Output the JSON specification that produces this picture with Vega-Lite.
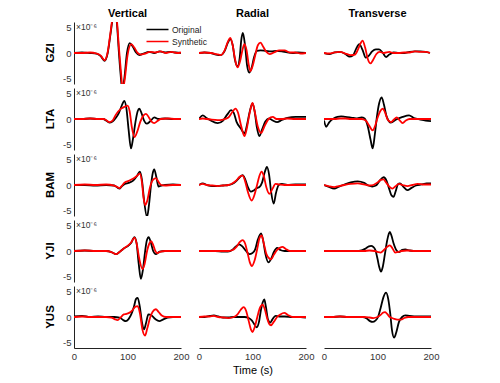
{
"$schema":"https://vega.github.io/schema/vega-lite/v6.json",
"padding":{"left":45,"top":8,"right":5,"bottom":5},
"background":"white",
"config":{"font":"Liberation Sans","view":{"stroke":null},
 "axis":{"grid":false,"ticks":false,"domainColor":"#222","domainWidth":1,"labelColor":"#333","labelFontSize":9.5,"labelPadding":3,"labelFlush":false,"labelOverlap":false,"title":null}},
"data":{"values":[
{"s":"GZI","c":"V","k":"O","t":0,"v":0},{"s":"GZI","c":"V","k":"O","t":15,"v":0.1},{"s":"GZI","c":"V","k":"O","t":30,"v":0},{"s":"GZI","c":"V","k":"O","t":42,"v":-0.1},{"s":"GZI","c":"V","k":"O","t":50,"v":-0.6},{"s":"GZI","c":"V","k":"O","t":57,"v":-1.5},{"s":"GZI","c":"V","k":"O","t":63,"v":0},{"s":"GZI","c":"V","k":"O","t":68,"v":3.5},{"s":"GZI","c":"V","k":"O","t":72,"v":6.5},{"s":"GZI","c":"V","k":"O","t":76,"v":8.5},{"s":"GZI","c":"V","k":"O","t":80,"v":6},{"s":"GZI","c":"V","k":"O","t":84,"v":0},{"s":"GZI","c":"V","k":"O","t":87,"v":-4},{"s":"GZI","c":"V","k":"O","t":90,"v":-7},{"s":"GZI","c":"V","k":"O","t":94,"v":-5},{"s":"GZI","c":"V","k":"O","t":99,"v":0},{"s":"GZI","c":"V","k":"O","t":104,"v":1.9},{"s":"GZI","c":"V","k":"O","t":110,"v":1.2},{"s":"GZI","c":"V","k":"O","t":116,"v":0.1},{"s":"GZI","c":"V","k":"O","t":122,"v":-0.4},{"s":"GZI","c":"V","k":"O","t":130,"v":-0.1},{"s":"GZI","c":"V","k":"O","t":140,"v":0.2},{"s":"GZI","c":"V","k":"O","t":150,"v":0},{"s":"GZI","c":"V","k":"O","t":160,"v":0.3},{"s":"GZI","c":"V","k":"O","t":170,"v":0.1},{"s":"GZI","c":"V","k":"O","t":180,"v":0.2},{"s":"GZI","c":"V","k":"O","t":190,"v":0.1},{"s":"GZI","c":"V","k":"O","t":200,"v":0},
{"s":"GZI","c":"V","k":"S","t":0,"v":0},{"s":"GZI","c":"V","k":"S","t":15,"v":0},{"s":"GZI","c":"V","k":"S","t":30,"v":0.1},{"s":"GZI","c":"V","k":"S","t":42,"v":-0.1},{"s":"GZI","c":"V","k":"S","t":50,"v":-0.5},{"s":"GZI","c":"V","k":"S","t":57,"v":-1.4},{"s":"GZI","c":"V","k":"S","t":63,"v":0.2},{"s":"GZI","c":"V","k":"S","t":68,"v":3.8},{"s":"GZI","c":"V","k":"S","t":72,"v":6.8},{"s":"GZI","c":"V","k":"S","t":76,"v":8.5},{"s":"GZI","c":"V","k":"S","t":80,"v":6.5},{"s":"GZI","c":"V","k":"S","t":84,"v":1},{"s":"GZI","c":"V","k":"S","t":88,"v":-4},{"s":"GZI","c":"V","k":"S","t":91,"v":-7},{"s":"GZI","c":"V","k":"S","t":95,"v":-5},{"s":"GZI","c":"V","k":"S","t":100,"v":-0.5},{"s":"GZI","c":"V","k":"S","t":107,"v":1.7},{"s":"GZI","c":"V","k":"S","t":113,"v":1},{"s":"GZI","c":"V","k":"S","t":119,"v":0},{"s":"GZI","c":"V","k":"S","t":125,"v":-0.3},{"s":"GZI","c":"V","k":"S","t":133,"v":-0.1},{"s":"GZI","c":"V","k":"S","t":142,"v":0.2},{"s":"GZI","c":"V","k":"S","t":152,"v":0.1},{"s":"GZI","c":"V","k":"S","t":162,"v":0.3},{"s":"GZI","c":"V","k":"S","t":172,"v":0},{"s":"GZI","c":"V","k":"S","t":182,"v":0.2},{"s":"GZI","c":"V","k":"S","t":192,"v":0},{"s":"GZI","c":"V","k":"S","t":200,"v":0.1},
{"s":"GZI","c":"R","k":"O","t":0,"v":0},{"s":"GZI","c":"R","k":"O","t":10,"v":0.1},{"s":"GZI","c":"R","k":"O","t":22,"v":0},{"s":"GZI","c":"R","k":"O","t":32,"v":-0.3},{"s":"GZI","c":"R","k":"O","t":41,"v":-0.4},{"s":"GZI","c":"R","k":"O","t":48,"v":0.4},{"s":"GZI","c":"R","k":"O","t":54,"v":2},{"s":"GZI","c":"R","k":"O","t":58.5,"v":2.7},{"s":"GZI","c":"R","k":"O","t":63,"v":1.5},{"s":"GZI","c":"R","k":"O","t":67,"v":-1.2},{"s":"GZI","c":"R","k":"O","t":72,"v":-2.6},{"s":"GZI","c":"R","k":"O","t":76,"v":-1},{"s":"GZI","c":"R","k":"O","t":79,"v":2.5},{"s":"GZI","c":"R","k":"O","t":82,"v":3.9},{"s":"GZI","c":"R","k":"O","t":86,"v":1.5},{"s":"GZI","c":"R","k":"O","t":90,"v":-2.5},{"s":"GZI","c":"R","k":"O","t":94,"v":-3.8},{"s":"GZI","c":"R","k":"O","t":98,"v":-3},{"s":"GZI","c":"R","k":"O","t":103,"v":-0.8},{"s":"GZI","c":"R","k":"O","t":108,"v":0.4},{"s":"GZI","c":"R","k":"O","t":115,"v":0.5},{"s":"GZI","c":"R","k":"O","t":125,"v":0.4},{"s":"GZI","c":"R","k":"O","t":135,"v":0.3},{"s":"GZI","c":"R","k":"O","t":145,"v":0.4},{"s":"GZI","c":"R","k":"O","t":155,"v":0.3},{"s":"GZI","c":"R","k":"O","t":165,"v":0.1},{"s":"GZI","c":"R","k":"O","t":175,"v":0},{"s":"GZI","c":"R","k":"O","t":185,"v":0.1},{"s":"GZI","c":"R","k":"O","t":200,"v":0},
{"s":"GZI","c":"R","k":"S","t":0,"v":0},{"s":"GZI","c":"R","k":"S","t":10,"v":0.1},{"s":"GZI","c":"R","k":"S","t":22,"v":0},{"s":"GZI","c":"R","k":"S","t":32,"v":-0.2},{"s":"GZI","c":"R","k":"S","t":41,"v":-0.4},{"s":"GZI","c":"R","k":"S","t":48,"v":0.5},{"s":"GZI","c":"R","k":"S","t":54,"v":2.2},{"s":"GZI","c":"R","k":"S","t":58.5,"v":2.9},{"s":"GZI","c":"R","k":"S","t":63,"v":1.5},{"s":"GZI","c":"R","k":"S","t":67,"v":-1},{"s":"GZI","c":"R","k":"S","t":72,"v":-2.8},{"s":"GZI","c":"R","k":"S","t":77,"v":-1.5},{"s":"GZI","c":"R","k":"S","t":81,"v":0.5},{"s":"GZI","c":"R","k":"S","t":85,"v":1.7},{"s":"GZI","c":"R","k":"S","t":89,"v":0.5},{"s":"GZI","c":"R","k":"S","t":93,"v":-2.3},{"s":"GZI","c":"R","k":"S","t":96,"v":-3.5},{"s":"GZI","c":"R","k":"S","t":100,"v":-2.6},{"s":"GZI","c":"R","k":"S","t":105,"v":-0.5},{"s":"GZI","c":"R","k":"S","t":110,"v":1.5},{"s":"GZI","c":"R","k":"S","t":115,"v":2},{"s":"GZI","c":"R","k":"S","t":120,"v":1.2},{"s":"GZI","c":"R","k":"S","t":126,"v":0.2},{"s":"GZI","c":"R","k":"S","t":132,"v":-0.2},{"s":"GZI","c":"R","k":"S","t":140,"v":0.1},{"s":"GZI","c":"R","k":"S","t":150,"v":0.5},{"s":"GZI","c":"R","k":"S","t":160,"v":0.5},{"s":"GZI","c":"R","k":"S","t":170,"v":0.1},{"s":"GZI","c":"R","k":"S","t":180,"v":0.1},{"s":"GZI","c":"R","k":"S","t":190,"v":-0.1},{"s":"GZI","c":"R","k":"S","t":200,"v":0},
{"s":"GZI","c":"T","k":"O","t":0,"v":0},{"s":"GZI","c":"T","k":"O","t":10,"v":-0.2},{"s":"GZI","c":"T","k":"O","t":20,"v":0.1},{"s":"GZI","c":"T","k":"O","t":30,"v":0.2},{"s":"GZI","c":"T","k":"O","t":40,"v":-0.2},{"s":"GZI","c":"T","k":"O","t":48,"v":-0.7},{"s":"GZI","c":"T","k":"O","t":54,"v":-0.5},{"s":"GZI","c":"T","k":"O","t":60,"v":0.8},{"s":"GZI","c":"T","k":"O","t":66,"v":1.7},{"s":"GZI","c":"T","k":"O","t":72,"v":0.6},{"s":"GZI","c":"T","k":"O","t":78,"v":-0.9},{"s":"GZI","c":"T","k":"O","t":84,"v":-0.5},{"s":"GZI","c":"T","k":"O","t":90,"v":0.3},{"s":"GZI","c":"T","k":"O","t":97,"v":0.7},{"s":"GZI","c":"T","k":"O","t":103,"v":0.7},{"s":"GZI","c":"T","k":"O","t":110,"v":0},{"s":"GZI","c":"T","k":"O","t":116,"v":-0.8},{"s":"GZI","c":"T","k":"O","t":122,"v":-0.3},{"s":"GZI","c":"T","k":"O","t":130,"v":0.1},{"s":"GZI","c":"T","k":"O","t":140,"v":0},{"s":"GZI","c":"T","k":"O","t":150,"v":0},{"s":"GZI","c":"T","k":"O","t":160,"v":0.2},{"s":"GZI","c":"T","k":"O","t":170,"v":0.3},{"s":"GZI","c":"T","k":"O","t":180,"v":0.3},{"s":"GZI","c":"T","k":"O","t":190,"v":0.2},{"s":"GZI","c":"T","k":"O","t":198,"v":0},
{"s":"GZI","c":"T","k":"S","t":0,"v":0},{"s":"GZI","c":"T","k":"S","t":10,"v":-0.1},{"s":"GZI","c":"T","k":"S","t":20,"v":0.1},{"s":"GZI","c":"T","k":"S","t":30,"v":0.2},{"s":"GZI","c":"T","k":"S","t":40,"v":-0.1},{"s":"GZI","c":"T","k":"S","t":50,"v":-0.4},{"s":"GZI","c":"T","k":"S","t":58,"v":-0.3},{"s":"GZI","c":"T","k":"S","t":64,"v":0.8},{"s":"GZI","c":"T","k":"S","t":68,"v":1.8},{"s":"GZI","c":"T","k":"S","t":72,"v":2.4},{"s":"GZI","c":"T","k":"S","t":77,"v":1},{"s":"GZI","c":"T","k":"S","t":82,"v":-1.2},{"s":"GZI","c":"T","k":"S","t":87,"v":-2},{"s":"GZI","c":"T","k":"S","t":92,"v":-1.3},{"s":"GZI","c":"T","k":"S","t":98,"v":-0.2},{"s":"GZI","c":"T","k":"S","t":104,"v":0.2},{"s":"GZI","c":"T","k":"S","t":112,"v":0},{"s":"GZI","c":"T","k":"S","t":122,"v":0.2},{"s":"GZI","c":"T","k":"S","t":130,"v":0},{"s":"GZI","c":"T","k":"S","t":140,"v":0},{"s":"GZI","c":"T","k":"S","t":150,"v":0.1},{"s":"GZI","c":"T","k":"S","t":160,"v":0.1},{"s":"GZI","c":"T","k":"S","t":170,"v":0.3},{"s":"GZI","c":"T","k":"S","t":180,"v":0.2},{"s":"GZI","c":"T","k":"S","t":190,"v":0.2},{"s":"GZI","c":"T","k":"S","t":198,"v":0},
{"s":"LTA","c":"V","k":"O","t":0,"v":0},{"s":"LTA","c":"V","k":"O","t":15,"v":0},{"s":"LTA","c":"V","k":"O","t":30,"v":0.1},{"s":"LTA","c":"V","k":"O","t":45,"v":0},{"s":"LTA","c":"V","k":"O","t":55,"v":0},{"s":"LTA","c":"V","k":"O","t":60,"v":-0.3},{"s":"LTA","c":"V","k":"O","t":66,"v":-0.7},{"s":"LTA","c":"V","k":"O","t":72,"v":-0.5},{"s":"LTA","c":"V","k":"O","t":78,"v":0.2},{"s":"LTA","c":"V","k":"O","t":84,"v":1.2},{"s":"LTA","c":"V","k":"O","t":90,"v":2.8},{"s":"LTA","c":"V","k":"O","t":94,"v":3.5},{"s":"LTA","c":"V","k":"O","t":98,"v":2},{"s":"LTA","c":"V","k":"O","t":102,"v":-2},{"s":"LTA","c":"V","k":"O","t":106.5,"v":-5.7},{"s":"LTA","c":"V","k":"O","t":110,"v":-4},{"s":"LTA","c":"V","k":"O","t":115,"v":-0.5},{"s":"LTA","c":"V","k":"O","t":119,"v":1.5},{"s":"LTA","c":"V","k":"O","t":122,"v":2},{"s":"LTA","c":"V","k":"O","t":126,"v":1.2},{"s":"LTA","c":"V","k":"O","t":131,"v":-0.3},{"s":"LTA","c":"V","k":"O","t":136,"v":-0.9},{"s":"LTA","c":"V","k":"O","t":142,"v":-0.5},{"s":"LTA","c":"V","k":"O","t":150,"v":0.3},{"s":"LTA","c":"V","k":"O","t":158,"v":0},{"s":"LTA","c":"V","k":"O","t":170,"v":0.1},{"s":"LTA","c":"V","k":"O","t":185,"v":0},{"s":"LTA","c":"V","k":"O","t":200,"v":0},
{"s":"LTA","c":"V","k":"S","t":0,"v":0},{"s":"LTA","c":"V","k":"S","t":15,"v":0},{"s":"LTA","c":"V","k":"S","t":30,"v":0.1},{"s":"LTA","c":"V","k":"S","t":45,"v":0},{"s":"LTA","c":"V","k":"S","t":55,"v":0},{"s":"LTA","c":"V","k":"S","t":60,"v":-0.2},{"s":"LTA","c":"V","k":"S","t":66,"v":-0.6},{"s":"LTA","c":"V","k":"S","t":72,"v":-0.3},{"s":"LTA","c":"V","k":"S","t":78,"v":0.8},{"s":"LTA","c":"V","k":"S","t":88,"v":2},{"s":"LTA","c":"V","k":"S","t":95,"v":2.4},{"s":"LTA","c":"V","k":"S","t":100,"v":2.6},{"s":"LTA","c":"V","k":"S","t":104,"v":1.5},{"s":"LTA","c":"V","k":"S","t":108,"v":-1.5},{"s":"LTA","c":"V","k":"S","t":113,"v":-3.5},{"s":"LTA","c":"V","k":"S","t":118,"v":-2.5},{"s":"LTA","c":"V","k":"S","t":124,"v":-0.5},{"s":"LTA","c":"V","k":"S","t":130,"v":0.7},{"s":"LTA","c":"V","k":"S","t":134.6,"v":1},{"s":"LTA","c":"V","k":"S","t":140,"v":0.3},{"s":"LTA","c":"V","k":"S","t":145,"v":-0.5},{"s":"LTA","c":"V","k":"S","t":150,"v":-0.8},{"s":"LTA","c":"V","k":"S","t":156,"v":-0.4},{"s":"LTA","c":"V","k":"S","t":162,"v":0},{"s":"LTA","c":"V","k":"S","t":175,"v":0.1},{"s":"LTA","c":"V","k":"S","t":190,"v":0},{"s":"LTA","c":"V","k":"S","t":200,"v":0},
{"s":"LTA","c":"R","k":"O","t":0,"v":0},{"s":"LTA","c":"R","k":"O","t":7,"v":0.7},{"s":"LTA","c":"R","k":"O","t":14,"v":0.2},{"s":"LTA","c":"R","k":"O","t":22,"v":-0.3},{"s":"LTA","c":"R","k":"O","t":35,"v":-0.8},{"s":"LTA","c":"R","k":"O","t":45,"v":-0.3},{"s":"LTA","c":"R","k":"O","t":53,"v":0.9},{"s":"LTA","c":"R","k":"O","t":60,"v":1.7},{"s":"LTA","c":"R","k":"O","t":65,"v":1.2},{"s":"LTA","c":"R","k":"O","t":70,"v":-0.5},{"s":"LTA","c":"R","k":"O","t":78,"v":-1.8},{"s":"LTA","c":"R","k":"O","t":85,"v":-2.8},{"s":"LTA","c":"R","k":"O","t":90,"v":-1},{"s":"LTA","c":"R","k":"O","t":95,"v":1.5},{"s":"LTA","c":"R","k":"O","t":100,"v":3},{"s":"LTA","c":"R","k":"O","t":104,"v":1.5},{"s":"LTA","c":"R","k":"O","t":108,"v":-1.5},{"s":"LTA","c":"R","k":"O","t":113,"v":-3.3},{"s":"LTA","c":"R","k":"O","t":118,"v":-2},{"s":"LTA","c":"R","k":"O","t":124,"v":-0.5},{"s":"LTA","c":"R","k":"O","t":131,"v":0.1},{"s":"LTA","c":"R","k":"O","t":138,"v":-0.3},{"s":"LTA","c":"R","k":"O","t":146,"v":-0.6},{"s":"LTA","c":"R","k":"O","t":155,"v":-0.2},{"s":"LTA","c":"R","k":"O","t":165,"v":0.2},{"s":"LTA","c":"R","k":"O","t":181,"v":0.4},{"s":"LTA","c":"R","k":"O","t":190,"v":0.4},{"s":"LTA","c":"R","k":"O","t":200,"v":0.4},
{"s":"LTA","c":"R","k":"S","t":0,"v":0},{"s":"LTA","c":"R","k":"S","t":7,"v":0.1},{"s":"LTA","c":"R","k":"S","t":14,"v":0},{"s":"LTA","c":"R","k":"S","t":22,"v":-0.1},{"s":"LTA","c":"R","k":"S","t":35,"v":-0.2},{"s":"LTA","c":"R","k":"S","t":45,"v":-0.1},{"s":"LTA","c":"R","k":"S","t":55,"v":0.3},{"s":"LTA","c":"R","k":"S","t":62,"v":1.3},{"s":"LTA","c":"R","k":"S","t":68,"v":2},{"s":"LTA","c":"R","k":"S","t":73,"v":1.2},{"s":"LTA","c":"R","k":"S","t":78,"v":-1},{"s":"LTA","c":"R","k":"S","t":85,"v":-3.3},{"s":"LTA","c":"R","k":"S","t":89,"v":-2},{"s":"LTA","c":"R","k":"S","t":94,"v":0.8},{"s":"LTA","c":"R","k":"S","t":100,"v":3.1},{"s":"LTA","c":"R","k":"S","t":104,"v":1.5},{"s":"LTA","c":"R","k":"S","t":110,"v":-1.5},{"s":"LTA","c":"R","k":"S","t":116,"v":-2.7},{"s":"LTA","c":"R","k":"S","t":122,"v":-1.5},{"s":"LTA","c":"R","k":"S","t":130,"v":0},{"s":"LTA","c":"R","k":"S","t":138,"v":0.4},{"s":"LTA","c":"R","k":"S","t":145,"v":0},{"s":"LTA","c":"R","k":"S","t":155,"v":0},{"s":"LTA","c":"R","k":"S","t":165,"v":0.1},{"s":"LTA","c":"R","k":"S","t":180,"v":0},{"s":"LTA","c":"R","k":"S","t":190,"v":0},{"s":"LTA","c":"R","k":"S","t":200,"v":0},
{"s":"LTA","c":"T","k":"O","t":0,"v":-0.3},{"s":"LTA","c":"T","k":"O","t":4,"v":-1.5},{"s":"LTA","c":"T","k":"O","t":10,"v":-0.6},{"s":"LTA","c":"T","k":"O","t":18,"v":0.1},{"s":"LTA","c":"T","k":"O","t":25,"v":0.4},{"s":"LTA","c":"T","k":"O","t":32,"v":0.5},{"s":"LTA","c":"T","k":"O","t":40,"v":0.4},{"s":"LTA","c":"T","k":"O","t":48,"v":0.3},{"s":"LTA","c":"T","k":"O","t":55,"v":0.2},{"s":"LTA","c":"T","k":"O","t":62,"v":0.1},{"s":"LTA","c":"T","k":"O","t":70,"v":0.3},{"s":"LTA","c":"T","k":"O","t":76,"v":0.1},{"s":"LTA","c":"T","k":"O","t":82,"v":-1.5},{"s":"LTA","c":"T","k":"O","t":87,"v":-4},{"s":"LTA","c":"T","k":"O","t":91,"v":-5.7},{"s":"LTA","c":"T","k":"O","t":95,"v":-3},{"s":"LTA","c":"T","k":"O","t":99,"v":0.5},{"s":"LTA","c":"T","k":"O","t":103,"v":3},{"s":"LTA","c":"T","k":"O","t":107.7,"v":4.2},{"s":"LTA","c":"T","k":"O","t":112,"v":2.8},{"s":"LTA","c":"T","k":"O","t":117,"v":0.5},{"s":"LTA","c":"T","k":"O","t":125,"v":-0.7},{"s":"LTA","c":"T","k":"O","t":135,"v":-0.1},{"s":"LTA","c":"T","k":"O","t":147,"v":0.4},{"s":"LTA","c":"T","k":"O","t":159,"v":0.7},{"s":"LTA","c":"T","k":"O","t":168,"v":0.2},{"s":"LTA","c":"T","k":"O","t":180,"v":-0.1},{"s":"LTA","c":"T","k":"O","t":190,"v":-0.3},{"s":"LTA","c":"T","k":"O","t":200,"v":-0.4},
{"s":"LTA","c":"T","k":"S","t":0,"v":0},{"s":"LTA","c":"T","k":"S","t":10,"v":0},{"s":"LTA","c":"T","k":"S","t":20,"v":0},{"s":"LTA","c":"T","k":"S","t":30,"v":0.1},{"s":"LTA","c":"T","k":"S","t":40,"v":0.1},{"s":"LTA","c":"T","k":"S","t":50,"v":0},{"s":"LTA","c":"T","k":"S","t":60,"v":0},{"s":"LTA","c":"T","k":"S","t":70,"v":0},{"s":"LTA","c":"T","k":"S","t":78,"v":-0.3},{"s":"LTA","c":"T","k":"S","t":84,"v":-1.2},{"s":"LTA","c":"T","k":"S","t":91,"v":-2.2},{"s":"LTA","c":"T","k":"S","t":96,"v":-1.2},{"s":"LTA","c":"T","k":"S","t":100,"v":0.2},{"s":"LTA","c":"T","k":"S","t":105,"v":1.5},{"s":"LTA","c":"T","k":"S","t":110,"v":2},{"s":"LTA","c":"T","k":"S","t":114,"v":1.3},{"s":"LTA","c":"T","k":"S","t":119,"v":-0.1},{"s":"LTA","c":"T","k":"S","t":125,"v":-0.6},{"s":"LTA","c":"T","k":"S","t":130,"v":-0.2},{"s":"LTA","c":"T","k":"S","t":136,"v":0.3},{"s":"LTA","c":"T","k":"S","t":141,"v":-0.2},{"s":"LTA","c":"T","k":"S","t":147,"v":-0.8},{"s":"LTA","c":"T","k":"S","t":153,"v":-0.3},{"s":"LTA","c":"T","k":"S","t":160,"v":0},{"s":"LTA","c":"T","k":"S","t":170,"v":0},{"s":"LTA","c":"T","k":"S","t":185,"v":0},{"s":"LTA","c":"T","k":"S","t":200,"v":0},
{"s":"BAM","c":"V","k":"O","t":0,"v":0},{"s":"BAM","c":"V","k":"O","t":20,"v":0},{"s":"BAM","c":"V","k":"O","t":40,"v":-0.1},{"s":"BAM","c":"V","k":"O","t":60,"v":0},{"s":"BAM","c":"V","k":"O","t":75,"v":-0.1},{"s":"BAM","c":"V","k":"O","t":81,"v":-0.5},{"s":"BAM","c":"V","k":"O","t":85,"v":-0.7},{"s":"BAM","c":"V","k":"O","t":89,"v":-0.3},{"s":"BAM","c":"V","k":"O","t":95,"v":0.2},{"s":"BAM","c":"V","k":"O","t":102,"v":0.4},{"s":"BAM","c":"V","k":"O","t":110,"v":0.8},{"s":"BAM","c":"V","k":"O","t":118,"v":1.8},{"s":"BAM","c":"V","k":"O","t":123,"v":2.6},{"s":"BAM","c":"V","k":"O","t":127,"v":1},{"s":"BAM","c":"V","k":"O","t":131,"v":-3},{"s":"BAM","c":"V","k":"O","t":136.5,"v":-6.2},{"s":"BAM","c":"V","k":"O","t":140,"v":-4},{"s":"BAM","c":"V","k":"O","t":144,"v":0},{"s":"BAM","c":"V","k":"O","t":147,"v":2.2},{"s":"BAM","c":"V","k":"O","t":150,"v":3},{"s":"BAM","c":"V","k":"O","t":154,"v":1.5},{"s":"BAM","c":"V","k":"O","t":158,"v":-0.3},{"s":"BAM","c":"V","k":"O","t":163,"v":-0.1},{"s":"BAM","c":"V","k":"O","t":170,"v":0},{"s":"BAM","c":"V","k":"O","t":185,"v":0.1},{"s":"BAM","c":"V","k":"O","t":200,"v":0},
{"s":"BAM","c":"V","k":"S","t":0,"v":0},{"s":"BAM","c":"V","k":"S","t":20,"v":0.1},{"s":"BAM","c":"V","k":"S","t":40,"v":0},{"s":"BAM","c":"V","k":"S","t":60,"v":0.1},{"s":"BAM","c":"V","k":"S","t":75,"v":-0.1},{"s":"BAM","c":"V","k":"S","t":81,"v":-0.4},{"s":"BAM","c":"V","k":"S","t":85,"v":-0.6},{"s":"BAM","c":"V","k":"S","t":89,"v":-0.2},{"s":"BAM","c":"V","k":"S","t":95,"v":0.5},{"s":"BAM","c":"V","k":"S","t":102,"v":0.8},{"s":"BAM","c":"V","k":"S","t":110,"v":1.2},{"s":"BAM","c":"V","k":"S","t":118,"v":1.8},{"s":"BAM","c":"V","k":"S","t":123,"v":2.2},{"s":"BAM","c":"V","k":"S","t":127,"v":0.5},{"s":"BAM","c":"V","k":"S","t":130,"v":-2.5},{"s":"BAM","c":"V","k":"S","t":133,"v":-3.9},{"s":"BAM","c":"V","k":"S","t":137,"v":-3},{"s":"BAM","c":"V","k":"S","t":142,"v":-0.5},{"s":"BAM","c":"V","k":"S","t":147,"v":0.9},{"s":"BAM","c":"V","k":"S","t":153,"v":1.35},{"s":"BAM","c":"V","k":"S","t":158,"v":0.6},{"s":"BAM","c":"V","k":"S","t":163,"v":0},{"s":"BAM","c":"V","k":"S","t":170,"v":-0.1},{"s":"BAM","c":"V","k":"S","t":185,"v":0},{"s":"BAM","c":"V","k":"S","t":200,"v":0},
{"s":"BAM","c":"R","k":"O","t":0,"v":0},{"s":"BAM","c":"R","k":"O","t":7,"v":0.3},{"s":"BAM","c":"R","k":"O","t":15,"v":0},{"s":"BAM","c":"R","k":"O","t":25,"v":-0.2},{"s":"BAM","c":"R","k":"O","t":35,"v":-0.2},{"s":"BAM","c":"R","k":"O","t":45,"v":-0.1},{"s":"BAM","c":"R","k":"O","t":55,"v":0},{"s":"BAM","c":"R","k":"O","t":62,"v":0.2},{"s":"BAM","c":"R","k":"O","t":70,"v":0.8},{"s":"BAM","c":"R","k":"O","t":76,"v":1.5},{"s":"BAM","c":"R","k":"O","t":81.6,"v":1.9},{"s":"BAM","c":"R","k":"O","t":86,"v":1.2},{"s":"BAM","c":"R","k":"O","t":91,"v":-0.3},{"s":"BAM","c":"R","k":"O","t":97,"v":-1.3},{"s":"BAM","c":"R","k":"O","t":103,"v":-1},{"s":"BAM","c":"R","k":"O","t":108,"v":-0.6},{"s":"BAM","c":"R","k":"O","t":113,"v":-0.4},{"s":"BAM","c":"R","k":"O","t":118,"v":0.5},{"s":"BAM","c":"R","k":"O","t":123,"v":2.5},{"s":"BAM","c":"R","k":"O","t":127,"v":3.5},{"s":"BAM","c":"R","k":"O","t":131,"v":2},{"s":"BAM","c":"R","k":"O","t":135,"v":-1.5},{"s":"BAM","c":"R","k":"O","t":139.6,"v":-3.6},{"s":"BAM","c":"R","k":"O","t":144,"v":-1.5},{"s":"BAM","c":"R","k":"O","t":149,"v":0},{"s":"BAM","c":"R","k":"O","t":155,"v":0.2},{"s":"BAM","c":"R","k":"O","t":165,"v":0},{"s":"BAM","c":"R","k":"O","t":180,"v":0.1},{"s":"BAM","c":"R","k":"O","t":200,"v":0.1},
{"s":"BAM","c":"R","k":"S","t":0,"v":0},{"s":"BAM","c":"R","k":"S","t":7,"v":0.2},{"s":"BAM","c":"R","k":"S","t":15,"v":0},{"s":"BAM","c":"R","k":"S","t":25,"v":-0.1},{"s":"BAM","c":"R","k":"S","t":35,"v":-0.2},{"s":"BAM","c":"R","k":"S","t":45,"v":-0.1},{"s":"BAM","c":"R","k":"S","t":55,"v":0},{"s":"BAM","c":"R","k":"S","t":62,"v":0.3},{"s":"BAM","c":"R","k":"S","t":70,"v":0.9},{"s":"BAM","c":"R","k":"S","t":76,"v":1.6},{"s":"BAM","c":"R","k":"S","t":81.6,"v":1.8},{"s":"BAM","c":"R","k":"S","t":86,"v":0.8},{"s":"BAM","c":"R","k":"S","t":91,"v":-1.2},{"s":"BAM","c":"R","k":"S","t":98.5,"v":-3},{"s":"BAM","c":"R","k":"S","t":104,"v":-1.8},{"s":"BAM","c":"R","k":"S","t":109,"v":0.2},{"s":"BAM","c":"R","k":"S","t":113,"v":1.8},{"s":"BAM","c":"R","k":"S","t":117,"v":2.6},{"s":"BAM","c":"R","k":"S","t":121,"v":1.8},{"s":"BAM","c":"R","k":"S","t":126,"v":-0.5},{"s":"BAM","c":"R","k":"S","t":131.5,"v":-1.7},{"s":"BAM","c":"R","k":"S","t":137,"v":-0.8},{"s":"BAM","c":"R","k":"S","t":143,"v":0.2},{"s":"BAM","c":"R","k":"S","t":150,"v":0.1},{"s":"BAM","c":"R","k":"S","t":160,"v":0},{"s":"BAM","c":"R","k":"S","t":180,"v":0},{"s":"BAM","c":"R","k":"S","t":200,"v":0},
{"s":"BAM","c":"T","k":"O","t":0,"v":0},{"s":"BAM","c":"T","k":"O","t":8,"v":-0.3},{"s":"BAM","c":"T","k":"O","t":19,"v":-0.7},{"s":"BAM","c":"T","k":"O","t":28,"v":-0.3},{"s":"BAM","c":"T","k":"O","t":38,"v":0.1},{"s":"BAM","c":"T","k":"O","t":50,"v":0.5},{"s":"BAM","c":"T","k":"O","t":63,"v":0.7},{"s":"BAM","c":"T","k":"O","t":75,"v":0.4},{"s":"BAM","c":"T","k":"O","t":83,"v":-0.1},{"s":"BAM","c":"T","k":"O","t":90,"v":-0.3},{"s":"BAM","c":"T","k":"O","t":97,"v":-0.1},{"s":"BAM","c":"T","k":"O","t":104,"v":0.8},{"s":"BAM","c":"T","k":"O","t":111.5,"v":1.5},{"s":"BAM","c":"T","k":"O","t":117,"v":0.8},{"s":"BAM","c":"T","k":"O","t":122,"v":-0.8},{"s":"BAM","c":"T","k":"O","t":126,"v":-2},{"s":"BAM","c":"T","k":"O","t":130,"v":-2.3},{"s":"BAM","c":"T","k":"O","t":134,"v":-1.2},{"s":"BAM","c":"T","k":"O","t":138,"v":0.1},{"s":"BAM","c":"T","k":"O","t":142,"v":0.3},{"s":"BAM","c":"T","k":"O","t":148,"v":-0.3},{"s":"BAM","c":"T","k":"O","t":156,"v":-1},{"s":"BAM","c":"T","k":"O","t":163,"v":-0.6},{"s":"BAM","c":"T","k":"O","t":172,"v":-0.1},{"s":"BAM","c":"T","k":"O","t":182,"v":0.1},{"s":"BAM","c":"T","k":"O","t":192,"v":0.3},{"s":"BAM","c":"T","k":"O","t":200,"v":0.3},
{"s":"BAM","c":"T","k":"S","t":0,"v":0},{"s":"BAM","c":"T","k":"S","t":8,"v":-0.2},{"s":"BAM","c":"T","k":"S","t":19,"v":-0.4},{"s":"BAM","c":"T","k":"S","t":28,"v":-0.2},{"s":"BAM","c":"T","k":"S","t":38,"v":0},{"s":"BAM","c":"T","k":"S","t":50,"v":0.2},{"s":"BAM","c":"T","k":"S","t":63,"v":0.3},{"s":"BAM","c":"T","k":"S","t":75,"v":0.1},{"s":"BAM","c":"T","k":"S","t":85,"v":-0.1},{"s":"BAM","c":"T","k":"S","t":92,"v":0},{"s":"BAM","c":"T","k":"S","t":100,"v":0.5},{"s":"BAM","c":"T","k":"S","t":106,"v":1},{"s":"BAM","c":"T","k":"S","t":111,"v":1.1},{"s":"BAM","c":"T","k":"S","t":116,"v":0.5},{"s":"BAM","c":"T","k":"S","t":122,"v":-0.3},{"s":"BAM","c":"T","k":"S","t":128,"v":-0.7},{"s":"BAM","c":"T","k":"S","t":133,"v":-0.3},{"s":"BAM","c":"T","k":"S","t":140,"v":0.2},{"s":"BAM","c":"T","k":"S","t":147,"v":0},{"s":"BAM","c":"T","k":"S","t":156,"v":-0.2},{"s":"BAM","c":"T","k":"S","t":165,"v":0},{"s":"BAM","c":"T","k":"S","t":175,"v":0.2},{"s":"BAM","c":"T","k":"S","t":185,"v":0.1},{"s":"BAM","c":"T","k":"S","t":200,"v":0.1},
{"s":"YJI","c":"V","k":"O","t":0,"v":0},{"s":"YJI","c":"V","k":"O","t":20,"v":0.1},{"s":"YJI","c":"V","k":"O","t":40,"v":0},{"s":"YJI","c":"V","k":"O","t":60,"v":0},{"s":"YJI","c":"V","k":"O","t":70,"v":-0.2},{"s":"YJI","c":"V","k":"O","t":78.5,"v":-0.6},{"s":"YJI","c":"V","k":"O","t":85,"v":-0.2},{"s":"YJI","c":"V","k":"O","t":93,"v":0.5},{"s":"YJI","c":"V","k":"O","t":100,"v":0.9},{"s":"YJI","c":"V","k":"O","t":107,"v":1.6},{"s":"YJI","c":"V","k":"O","t":113,"v":2.7},{"s":"YJI","c":"V","k":"O","t":117,"v":1.5},{"s":"YJI","c":"V","k":"O","t":121,"v":-2.5},{"s":"YJI","c":"V","k":"O","t":125,"v":-5.4},{"s":"YJI","c":"V","k":"O","t":129,"v":-3.5},{"s":"YJI","c":"V","k":"O","t":133,"v":0},{"s":"YJI","c":"V","k":"O","t":136,"v":2},{"s":"YJI","c":"V","k":"O","t":139.6,"v":2.7},{"s":"YJI","c":"V","k":"O","t":144,"v":1.5},{"s":"YJI","c":"V","k":"O","t":148,"v":0},{"s":"YJI","c":"V","k":"O","t":153,"v":-0.6},{"s":"YJI","c":"V","k":"O","t":160,"v":-0.1},{"s":"YJI","c":"V","k":"O","t":170,"v":0},{"s":"YJI","c":"V","k":"O","t":185,"v":0},{"s":"YJI","c":"V","k":"O","t":200,"v":0},
{"s":"YJI","c":"V","k":"S","t":0,"v":0},{"s":"YJI","c":"V","k":"S","t":20,"v":0.1},{"s":"YJI","c":"V","k":"S","t":40,"v":0},{"s":"YJI","c":"V","k":"S","t":60,"v":0},{"s":"YJI","c":"V","k":"S","t":70,"v":-0.2},{"s":"YJI","c":"V","k":"S","t":78.5,"v":-0.6},{"s":"YJI","c":"V","k":"S","t":85,"v":-0.2},{"s":"YJI","c":"V","k":"S","t":93,"v":0.5},{"s":"YJI","c":"V","k":"S","t":100,"v":1},{"s":"YJI","c":"V","k":"S","t":107,"v":1.7},{"s":"YJI","c":"V","k":"S","t":113,"v":2.6},{"s":"YJI","c":"V","k":"S","t":117,"v":1.5},{"s":"YJI","c":"V","k":"S","t":122,"v":-1.5},{"s":"YJI","c":"V","k":"S","t":128,"v":-3.5},{"s":"YJI","c":"V","k":"S","t":132,"v":-2.5},{"s":"YJI","c":"V","k":"S","t":137,"v":0.2},{"s":"YJI","c":"V","k":"S","t":141,"v":1.5},{"s":"YJI","c":"V","k":"S","t":144,"v":1.9},{"s":"YJI","c":"V","k":"S","t":148,"v":1.2},{"s":"YJI","c":"V","k":"S","t":152,"v":0},{"s":"YJI","c":"V","k":"S","t":156,"v":-0.4},{"s":"YJI","c":"V","k":"S","t":162,"v":-0.1},{"s":"YJI","c":"V","k":"S","t":170,"v":0},{"s":"YJI","c":"V","k":"S","t":185,"v":0},{"s":"YJI","c":"V","k":"S","t":200,"v":0},
{"s":"YJI","c":"R","k":"O","t":0,"v":0},{"s":"YJI","c":"R","k":"O","t":15,"v":0},{"s":"YJI","c":"R","k":"O","t":30,"v":0},{"s":"YJI","c":"R","k":"O","t":45,"v":-0.1},{"s":"YJI","c":"R","k":"O","t":54,"v":-0.1},{"s":"YJI","c":"R","k":"O","t":62,"v":0.2},{"s":"YJI","c":"R","k":"O","t":68,"v":0.8},{"s":"YJI","c":"R","k":"O","t":75,"v":1.3},{"s":"YJI","c":"R","k":"O","t":81,"v":0.9},{"s":"YJI","c":"R","k":"O","t":88,"v":0},{"s":"YJI","c":"R","k":"O","t":94,"v":-0.6},{"s":"YJI","c":"R","k":"O","t":100,"v":-0.4},{"s":"YJI","c":"R","k":"O","t":105,"v":0.3},{"s":"YJI","c":"R","k":"O","t":110,"v":2.2},{"s":"YJI","c":"R","k":"O","t":116,"v":3.4},{"s":"YJI","c":"R","k":"O","t":120,"v":2},{"s":"YJI","c":"R","k":"O","t":124,"v":-0.5},{"s":"YJI","c":"R","k":"O","t":130,"v":-2.2},{"s":"YJI","c":"R","k":"O","t":135,"v":-1.5},{"s":"YJI","c":"R","k":"O","t":140,"v":-0.2},{"s":"YJI","c":"R","k":"O","t":146,"v":0.6},{"s":"YJI","c":"R","k":"O","t":152,"v":0.2},{"s":"YJI","c":"R","k":"O","t":160,"v":0},{"s":"YJI","c":"R","k":"O","t":175,"v":0},{"s":"YJI","c":"R","k":"O","t":190,"v":0},{"s":"YJI","c":"R","k":"O","t":200,"v":0},
{"s":"YJI","c":"R","k":"S","t":0,"v":0},{"s":"YJI","c":"R","k":"S","t":15,"v":0},{"s":"YJI","c":"R","k":"S","t":30,"v":0},{"s":"YJI","c":"R","k":"S","t":45,"v":0},{"s":"YJI","c":"R","k":"S","t":55,"v":0},{"s":"YJI","c":"R","k":"S","t":63,"v":0.2},{"s":"YJI","c":"R","k":"S","t":70,"v":0.8},{"s":"YJI","c":"R","k":"S","t":76,"v":1.7},{"s":"YJI","c":"R","k":"S","t":81.6,"v":2.1},{"s":"YJI","c":"R","k":"S","t":86,"v":1.5},{"s":"YJI","c":"R","k":"S","t":91,"v":-0.5},{"s":"YJI","c":"R","k":"S","t":95,"v":-2.2},{"s":"YJI","c":"R","k":"S","t":99,"v":-2.9},{"s":"YJI","c":"R","k":"S","t":104,"v":-1.8},{"s":"YJI","c":"R","k":"S","t":110,"v":1},{"s":"YJI","c":"R","k":"S","t":113,"v":2.5},{"s":"YJI","c":"R","k":"S","t":117,"v":3},{"s":"YJI","c":"R","k":"S","t":121,"v":1.5},{"s":"YJI","c":"R","k":"S","t":126,"v":-0.6},{"s":"YJI","c":"R","k":"S","t":131,"v":-1.4},{"s":"YJI","c":"R","k":"S","t":134.6,"v":-1.6},{"s":"YJI","c":"R","k":"S","t":140,"v":-0.7},{"s":"YJI","c":"R","k":"S","t":146,"v":0.2},{"s":"YJI","c":"R","k":"S","t":151,"v":0.6},{"s":"YJI","c":"R","k":"S","t":156,"v":0.8},{"s":"YJI","c":"R","k":"S","t":162,"v":0.4},{"s":"YJI","c":"R","k":"S","t":170,"v":0},{"s":"YJI","c":"R","k":"S","t":185,"v":0},{"s":"YJI","c":"R","k":"S","t":200,"v":0},
{"s":"YJI","c":"T","k":"O","t":0,"v":0},{"s":"YJI","c":"T","k":"O","t":15,"v":0},{"s":"YJI","c":"T","k":"O","t":30,"v":0},{"s":"YJI","c":"T","k":"O","t":45,"v":0},{"s":"YJI","c":"T","k":"O","t":60,"v":0},{"s":"YJI","c":"T","k":"O","t":70,"v":0.1},{"s":"YJI","c":"T","k":"O","t":78,"v":0.5},{"s":"YJI","c":"T","k":"O","t":84,"v":0.9},{"s":"YJI","c":"T","k":"O","t":88,"v":1},{"s":"YJI","c":"T","k":"O","t":92,"v":0.8},{"s":"YJI","c":"T","k":"O","t":96,"v":0.2},{"s":"YJI","c":"T","k":"O","t":100,"v":-1.5},{"s":"YJI","c":"T","k":"O","t":103,"v":-3},{"s":"YJI","c":"T","k":"O","t":106.5,"v":-4},{"s":"YJI","c":"T","k":"O","t":110,"v":-3},{"s":"YJI","c":"T","k":"O","t":114,"v":-0.5},{"s":"YJI","c":"T","k":"O","t":118,"v":2},{"s":"YJI","c":"T","k":"O","t":121,"v":3.3},{"s":"YJI","c":"T","k":"O","t":123,"v":3.7},{"s":"YJI","c":"T","k":"O","t":126,"v":3},{"s":"YJI","c":"T","k":"O","t":130,"v":1.5},{"s":"YJI","c":"T","k":"O","t":135,"v":0.2},{"s":"YJI","c":"T","k":"O","t":140,"v":-0.2},{"s":"YJI","c":"T","k":"O","t":146,"v":0.2},{"s":"YJI","c":"T","k":"O","t":152,"v":0.3},{"s":"YJI","c":"T","k":"O","t":160,"v":0.1},{"s":"YJI","c":"T","k":"O","t":175,"v":0},{"s":"YJI","c":"T","k":"O","t":190,"v":0},{"s":"YJI","c":"T","k":"O","t":200,"v":0},
{"s":"YJI","c":"T","k":"S","t":0,"v":0},{"s":"YJI","c":"T","k":"S","t":15,"v":0},{"s":"YJI","c":"T","k":"S","t":30,"v":0},{"s":"YJI","c":"T","k":"S","t":45,"v":0},{"s":"YJI","c":"T","k":"S","t":60,"v":0},{"s":"YJI","c":"T","k":"S","t":75,"v":0},{"s":"YJI","c":"T","k":"S","t":85,"v":0.1},{"s":"YJI","c":"T","k":"S","t":95,"v":0},{"s":"YJI","c":"T","k":"S","t":101,"v":-0.2},{"s":"YJI","c":"T","k":"S","t":106,"v":-0.3},{"s":"YJI","c":"T","k":"S","t":112,"v":0.2},{"s":"YJI","c":"T","k":"S","t":118,"v":0.8},{"s":"YJI","c":"T","k":"S","t":123,"v":1.1},{"s":"YJI","c":"T","k":"S","t":128,"v":0.5},{"s":"YJI","c":"T","k":"S","t":133,"v":-0.3},{"s":"YJI","c":"T","k":"S","t":138,"v":-0.2},{"s":"YJI","c":"T","k":"S","t":145,"v":0},{"s":"YJI","c":"T","k":"S","t":155,"v":0.1},{"s":"YJI","c":"T","k":"S","t":170,"v":0},{"s":"YJI","c":"T","k":"S","t":185,"v":0},{"s":"YJI","c":"T","k":"S","t":200,"v":0},
{"s":"YUS","c":"V","k":"O","t":0,"v":0.1},{"s":"YUS","c":"V","k":"O","t":15,"v":0.2},{"s":"YUS","c":"V","k":"O","t":30,"v":0},{"s":"YUS","c":"V","k":"O","t":45,"v":0.1},{"s":"YUS","c":"V","k":"O","t":60,"v":0},{"s":"YUS","c":"V","k":"O","t":75,"v":0},{"s":"YUS","c":"V","k":"O","t":85,"v":-0.1},{"s":"YUS","c":"V","k":"O","t":92,"v":-0.6},{"s":"YUS","c":"V","k":"O","t":97,"v":-0.8},{"s":"YUS","c":"V","k":"O","t":102,"v":-0.4},{"s":"YUS","c":"V","k":"O","t":107,"v":0.5},{"s":"YUS","c":"V","k":"O","t":112,"v":2},{"s":"YUS","c":"V","k":"O","t":116,"v":3.5},{"s":"YUS","c":"V","k":"O","t":119,"v":3.7},{"s":"YUS","c":"V","k":"O","t":123,"v":2},{"s":"YUS","c":"V","k":"O","t":127,"v":-1},{"s":"YUS","c":"V","k":"O","t":131,"v":-2.4},{"s":"YUS","c":"V","k":"O","t":135,"v":-1},{"s":"YUS","c":"V","k":"O","t":139,"v":0.5},{"s":"YUS","c":"V","k":"O","t":145,"v":0.3},{"s":"YUS","c":"V","k":"O","t":152,"v":-0.4},{"s":"YUS","c":"V","k":"O","t":159.6,"v":-0.8},{"s":"YUS","c":"V","k":"O","t":166,"v":-0.5},{"s":"YUS","c":"V","k":"O","t":175,"v":-0.1},{"s":"YUS","c":"V","k":"O","t":185,"v":0},{"s":"YUS","c":"V","k":"O","t":200,"v":0},
{"s":"YUS","c":"V","k":"S","t":0,"v":0},{"s":"YUS","c":"V","k":"S","t":15,"v":0.1},{"s":"YUS","c":"V","k":"S","t":30,"v":0},{"s":"YUS","c":"V","k":"S","t":45,"v":0},{"s":"YUS","c":"V","k":"S","t":60,"v":0},{"s":"YUS","c":"V","k":"S","t":70,"v":-0.1},{"s":"YUS","c":"V","k":"S","t":76,"v":-0.4},{"s":"YUS","c":"V","k":"S","t":81.6,"v":-0.6},{"s":"YUS","c":"V","k":"S","t":87,"v":-0.1},{"s":"YUS","c":"V","k":"S","t":93,"v":0.5},{"s":"YUS","c":"V","k":"S","t":98,"v":0.6},{"s":"YUS","c":"V","k":"S","t":103,"v":0.8},{"s":"YUS","c":"V","k":"S","t":109,"v":1.3},{"s":"YUS","c":"V","k":"S","t":115,"v":2},{"s":"YUS","c":"V","k":"S","t":119,"v":2.1},{"s":"YUS","c":"V","k":"S","t":123,"v":0.8},{"s":"YUS","c":"V","k":"S","t":128,"v":-2.5},{"s":"YUS","c":"V","k":"S","t":132.7,"v":-3.6},{"s":"YUS","c":"V","k":"S","t":137,"v":-2.2},{"s":"YUS","c":"V","k":"S","t":142,"v":-0.2},{"s":"YUS","c":"V","k":"S","t":147,"v":1},{"s":"YUS","c":"V","k":"S","t":153,"v":1.5},{"s":"YUS","c":"V","k":"S","t":158,"v":1},{"s":"YUS","c":"V","k":"S","t":164,"v":0.3},{"s":"YUS","c":"V","k":"S","t":172,"v":0},{"s":"YUS","c":"V","k":"S","t":185,"v":0},{"s":"YUS","c":"V","k":"S","t":200,"v":0},
{"s":"YUS","c":"R","k":"O","t":0,"v":0},{"s":"YUS","c":"R","k":"O","t":10,"v":0},{"s":"YUS","c":"R","k":"O","t":20,"v":0.2},{"s":"YUS","c":"R","k":"O","t":28,"v":0.3},{"s":"YUS","c":"R","k":"O","t":36,"v":0.1},{"s":"YUS","c":"R","k":"O","t":45,"v":-0.1},{"s":"YUS","c":"R","k":"O","t":55,"v":-0.1},{"s":"YUS","c":"R","k":"O","t":65,"v":0},{"s":"YUS","c":"R","k":"O","t":75,"v":0},{"s":"YUS","c":"R","k":"O","t":85,"v":0},{"s":"YUS","c":"R","k":"O","t":93,"v":-0.2},{"s":"YUS","c":"R","k":"O","t":99,"v":-0.7},{"s":"YUS","c":"R","k":"O","t":104,"v":-1.5},{"s":"YUS","c":"R","k":"O","t":108,"v":-2},{"s":"YUS","c":"R","k":"O","t":112,"v":-1},{"s":"YUS","c":"R","k":"O","t":116,"v":1.5},{"s":"YUS","c":"R","k":"O","t":119,"v":2.8},{"s":"YUS","c":"R","k":"O","t":122,"v":3.4},{"s":"YUS","c":"R","k":"O","t":125,"v":2},{"s":"YUS","c":"R","k":"O","t":129,"v":-0.5},{"s":"YUS","c":"R","k":"O","t":133,"v":-1.1},{"s":"YUS","c":"R","k":"O","t":137,"v":-0.5},{"s":"YUS","c":"R","k":"O","t":143,"v":0.2},{"s":"YUS","c":"R","k":"O","t":150,"v":0.1},{"s":"YUS","c":"R","k":"O","t":160,"v":0.1},{"s":"YUS","c":"R","k":"O","t":175,"v":0},{"s":"YUS","c":"R","k":"O","t":190,"v":0},{"s":"YUS","c":"R","k":"O","t":200,"v":-0.1},
{"s":"YUS","c":"R","k":"S","t":0,"v":0},{"s":"YUS","c":"R","k":"S","t":10,"v":0.1},{"s":"YUS","c":"R","k":"S","t":20,"v":0.1},{"s":"YUS","c":"R","k":"S","t":28,"v":0.2},{"s":"YUS","c":"R","k":"S","t":36,"v":0},{"s":"YUS","c":"R","k":"S","t":45,"v":-0.1},{"s":"YUS","c":"R","k":"S","t":55,"v":-0.2},{"s":"YUS","c":"R","k":"S","t":65,"v":0},{"s":"YUS","c":"R","k":"S","t":72,"v":0.5},{"s":"YUS","c":"R","k":"S","t":78,"v":1.4},{"s":"YUS","c":"R","k":"S","t":83.5,"v":1.9},{"s":"YUS","c":"R","k":"S","t":88,"v":1.2},{"s":"YUS","c":"R","k":"S","t":93,"v":-0.8},{"s":"YUS","c":"R","k":"S","t":97,"v":-2.4},{"s":"YUS","c":"R","k":"S","t":100,"v":-2.9},{"s":"YUS","c":"R","k":"S","t":104,"v":-2},{"s":"YUS","c":"R","k":"S","t":109,"v":0},{"s":"YUS","c":"R","k":"S","t":114,"v":1.8},{"s":"YUS","c":"R","k":"S","t":119,"v":2.4},{"s":"YUS","c":"R","k":"S","t":123,"v":1.5},{"s":"YUS","c":"R","k":"S","t":128,"v":-0.5},{"s":"YUS","c":"R","k":"S","t":131,"v":-1.3},{"s":"YUS","c":"R","k":"S","t":134.6,"v":-1.6},{"s":"YUS","c":"R","k":"S","t":140,"v":-0.9},{"s":"YUS","c":"R","k":"S","t":146,"v":0},{"s":"YUS","c":"R","k":"S","t":152,"v":0.5},{"s":"YUS","c":"R","k":"S","t":159.5,"v":0.8},{"s":"YUS","c":"R","k":"S","t":166,"v":0.4},{"s":"YUS","c":"R","k":"S","t":175,"v":0},{"s":"YUS","c":"R","k":"S","t":190,"v":0},{"s":"YUS","c":"R","k":"S","t":200,"v":0},
{"s":"YUS","c":"T","k":"O","t":0,"v":0},{"s":"YUS","c":"T","k":"O","t":15,"v":0},{"s":"YUS","c":"T","k":"O","t":30,"v":0.1},{"s":"YUS","c":"T","k":"O","t":45,"v":0},{"s":"YUS","c":"T","k":"O","t":60,"v":0},{"s":"YUS","c":"T","k":"O","t":72,"v":0},{"s":"YUS","c":"T","k":"O","t":80,"v":-0.3},{"s":"YUS","c":"T","k":"O","t":86,"v":-0.8},{"s":"YUS","c":"T","k":"O","t":91,"v":-0.95},{"s":"YUS","c":"T","k":"O","t":96,"v":-0.7},{"s":"YUS","c":"T","k":"O","t":101,"v":0},{"s":"YUS","c":"T","k":"O","t":106,"v":1.8},{"s":"YUS","c":"T","k":"O","t":111,"v":3.8},{"s":"YUS","c":"T","k":"O","t":116,"v":4.7},{"s":"YUS","c":"T","k":"O","t":120,"v":3.5},{"s":"YUS","c":"T","k":"O","t":124,"v":0.5},{"s":"YUS","c":"T","k":"O","t":127,"v":-2.5},{"s":"YUS","c":"T","k":"O","t":131,"v":-4},{"s":"YUS","c":"T","k":"O","t":135,"v":-3},{"s":"YUS","c":"T","k":"O","t":140,"v":-1},{"s":"YUS","c":"T","k":"O","t":146,"v":0},{"s":"YUS","c":"T","k":"O","t":152,"v":0.3},{"s":"YUS","c":"T","k":"O","t":160,"v":0.2},{"s":"YUS","c":"T","k":"O","t":175,"v":0.1},{"s":"YUS","c":"T","k":"O","t":190,"v":0.1},{"s":"YUS","c":"T","k":"O","t":200,"v":0.1},
{"s":"YUS","c":"T","k":"S","t":0,"v":0},{"s":"YUS","c":"T","k":"S","t":15,"v":0},{"s":"YUS","c":"T","k":"S","t":30,"v":0.1},{"s":"YUS","c":"T","k":"S","t":45,"v":0},{"s":"YUS","c":"T","k":"S","t":60,"v":0},{"s":"YUS","c":"T","k":"S","t":75,"v":0},{"s":"YUS","c":"T","k":"S","t":85,"v":-0.1},{"s":"YUS","c":"T","k":"S","t":92,"v":-0.2},{"s":"YUS","c":"T","k":"S","t":100,"v":0},{"s":"YUS","c":"T","k":"S","t":106,"v":0.4},{"s":"YUS","c":"T","k":"S","t":110,"v":0.8},{"s":"YUS","c":"T","k":"S","t":114,"v":0.95},{"s":"YUS","c":"T","k":"S","t":118,"v":0.6},{"s":"YUS","c":"T","k":"S","t":123,"v":0},{"s":"YUS","c":"T","k":"S","t":130,"v":-0.3},{"s":"YUS","c":"T","k":"S","t":137,"v":-0.5},{"s":"YUS","c":"T","k":"S","t":144,"v":-0.5},{"s":"YUS","c":"T","k":"S","t":150,"v":-0.2},{"s":"YUS","c":"T","k":"S","t":158,"v":0},{"s":"YUS","c":"T","k":"S","t":170,"v":0},{"s":"YUS","c":"T","k":"S","t":185,"v":0},{"s":"YUS","c":"T","k":"S","t":200,"v":0}
]},
"facet":{
 "row":{"field":"s","type":"nominal","sort":["GZI","LTA","BAM","YJI","YUS"],"title":null,
  "header":{"labelOrient":"left","labelAngle":-90,"labelFontWeight":"bold","labelFontSize":11.5,"labelColor":"#000","labelPadding":0}},
 "column":{"field":"c","type":"nominal","sort":["V","R","T"],"title":"Time (s)",
  "header":{"labelOrient":"top","titleOrient":"bottom","labelExpr":"datum.value=='V'?'Vertical':datum.value=='R'?'Radial':'Transverse'","labelFontWeight":"bold","labelFontSize":11,"labelColor":"#000","labelPadding":3,"titleFontWeight":"normal","titleFontSize":11,"titleColor":"#000","titlePadding":-6}}
},
"spacing":{"row":4,"column":18},
"spec":{
 "width":107,"height":62,
 "layer":[
  {"mark":{"type":"line","clip":true,"strokeWidth":1.8,"interpolate":"monotone"},
   "encoding":{
    "x":{"field":"t","type":"quantitative","scale":{"domain":[0,200],"nice":false},"axis":{"values":[0,100,200],"tickCount":5,"labelOverlap":false}},
    "y":{"field":"v","type":"quantitative","scale":{"domain":[-6,6],"nice":false},"axis":{"values":[-5,0,5],"tickCount":5,"labelOverlap":false,"labelExpr":"datum.value < 0 ? '-' + abs(datum.value) : '' + datum.value"}},
    "color":{"field":"k","type":"nominal","scale":{"domain":["O","S"],"range":["#000000","#ff0000"]},
     "legend":{"title":null,"orient":"none","legendX":77,"legendY":1,"symbolType":"M-2,0H2","symbolSize":121,"symbolStrokeWidth":1.5,"labelFontSize":8.5,"labelColor":"#222","rowPadding":1,"labelOffset":8,"labelExpr":"datum.value=='O'?'Original':'Synthetic'"}}}},
  {"transform":[{"filter":"datum.c=='V' && datum.k=='O' && datum.t==0"}],
   "mark":{"type":"text","align":"left","baseline":"middle","dx":2,"fontSize":8.5,"color":"#333"},
   "encoding":{"x":{"datum":0,"type":"quantitative"},"y":{"datum":5,"type":"quantitative"},"text":{"value":"×10⁻⁶"}}}
 ]
}
}
